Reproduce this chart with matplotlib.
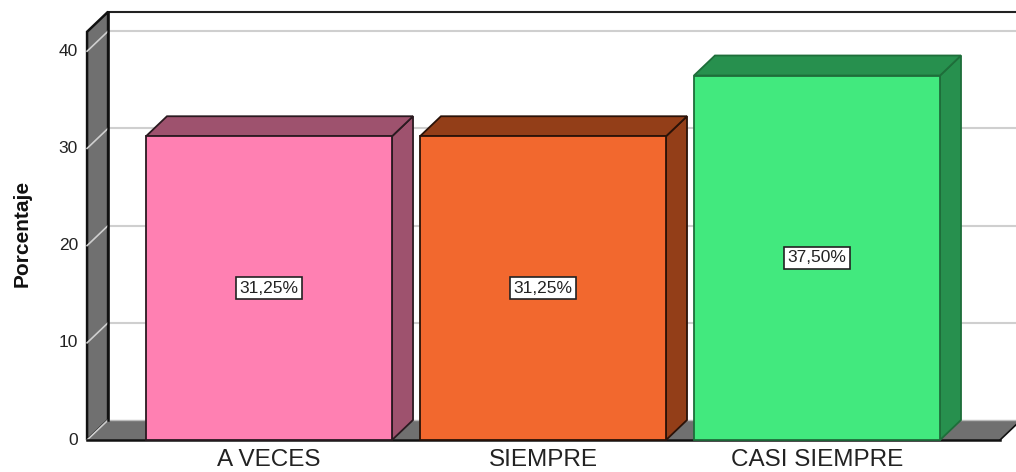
import matplotlib
matplotlib.use("Agg")
import matplotlib.pyplot as plt
from matplotlib.patches import Polygon, Rectangle

plt.rcParams['font.family'] = ['Liberation Sans', 'DejaVu Sans']

categories = ["A VECES", "SIEMPRE", "CASI SIEMPRE"]
values = [31.25, 31.25, 37.50]
labels = ["31,25%", "31,25%", "37,50%"]
front_colors = ["#FF80B2", "#F2682E", "#42E97E"]
side_colors = ["#9E526E", "#933E18", "#27904E"]
edge_colors = ["#2A1A20", "#2A1208", "#1E6E3A"]
yticks = [0, 10, 20, 30, 40]

# depth offset of the pseudo 3D look, in data units
dx = 0.0766
dy = 2.06
bar_w = 0.898
top = 42.0
x0 = -0.664
x1 = 2.668

fig = plt.figure(figsize=(10.16, 4.72), dpi=100)
ax = fig.add_axes([0, 0, 1, 1])
ax.set_xlim(-0.9818, 2.7263)
ax.set_ylim(-3.29, 45.27)
ax.axis('off')

wall_gray = "#707070"
grid_gray = "#CFCFCF"

# back wall
ax.add_patch(Rectangle((x0 + dx, dy), 3.0, top, facecolor="white", edgecolor="none", zorder=0))
for v in yticks[1:]:
    ax.plot([x0 + dx, 2.8], [v + dy, v + dy], color=grid_gray, lw=1.5, zorder=1)
ax.plot([x0 + dx, 2.8], [top + dy, top + dy], color="#222222", lw=1.5, zorder=1)

# left wall
ax.add_patch(Polygon([(x0, 0), (x0, top), (x0 + dx, top + dy), (x0 + dx, dy)],
                     closed=True, facecolor=wall_gray, edgecolor="#111111", lw=1.8, zorder=2))
for v in yticks:
    ax.plot([x0, x0 + dx], [v, v + dy], color=grid_gray, lw=1.2, zorder=3)

# floor
ax.add_patch(Polygon([(x0, 0), (x1, 0), (x1 + dx, dy), (x0 + dx, dy)],
                     closed=True, facecolor=wall_gray, edgecolor="none", zorder=2))
ax.plot([x0, x1], [0, 0], color="#111111", lw=1.8, zorder=3)
ax.plot([x1, x1 + dx], [0, dy], color="#111111", lw=1.2, zorder=3)
ax.plot([x0 + dx, 2.8], [dy, dy], color="#BBBBBB", lw=1.0, zorder=2)
ax.plot([x0 + dx, x0 + dx], [dy, top + dy], color="#111111", lw=1.8, zorder=3)

# bars
for i, v in enumerate(values):
    l = i - bar_w / 2
    r = i + bar_w / 2
    ec = edge_colors[i]
    ax.add_patch(Polygon([(r, 0), (r + dx, dy), (r + dx, v + dy), (r, v)], closed=True,
                         facecolor=side_colors[i], edgecolor=ec, lw=1.3, zorder=4))
    ax.add_patch(Polygon([(l, v), (l + dx, v + dy), (r + dx, v + dy), (r, v)], closed=True,
                         facecolor=side_colors[i], edgecolor=ec, lw=1.3, zorder=4))
    ax.add_patch(Rectangle((l, 0), bar_w, v, facecolor=front_colors[i], edgecolor=ec,
                           lw=1.3, zorder=5))
    ax.text(i, v / 2, labels[i], ha='center', va='center', fontsize=12.5, color="#222222",
            zorder=6, bbox=dict(boxstyle='square,pad=0.2', facecolor='white',
                                edgecolor='#222222', lw=1.2))
    ax.text(i, -2.1, categories[i], ha='center', va='center', fontsize=17.5, color="#222222")

for v in yticks:
    ax.text(-0.697, v, str(v), ha='right', va='center', fontsize=12.5, color="#222222")

ax.text(-0.9015, 21.3, "Porcentaje", rotation=90, ha='center', va='center',
        fontsize=15, fontweight='bold', color="#111111")

fig.savefig("out.png", dpi=100)
